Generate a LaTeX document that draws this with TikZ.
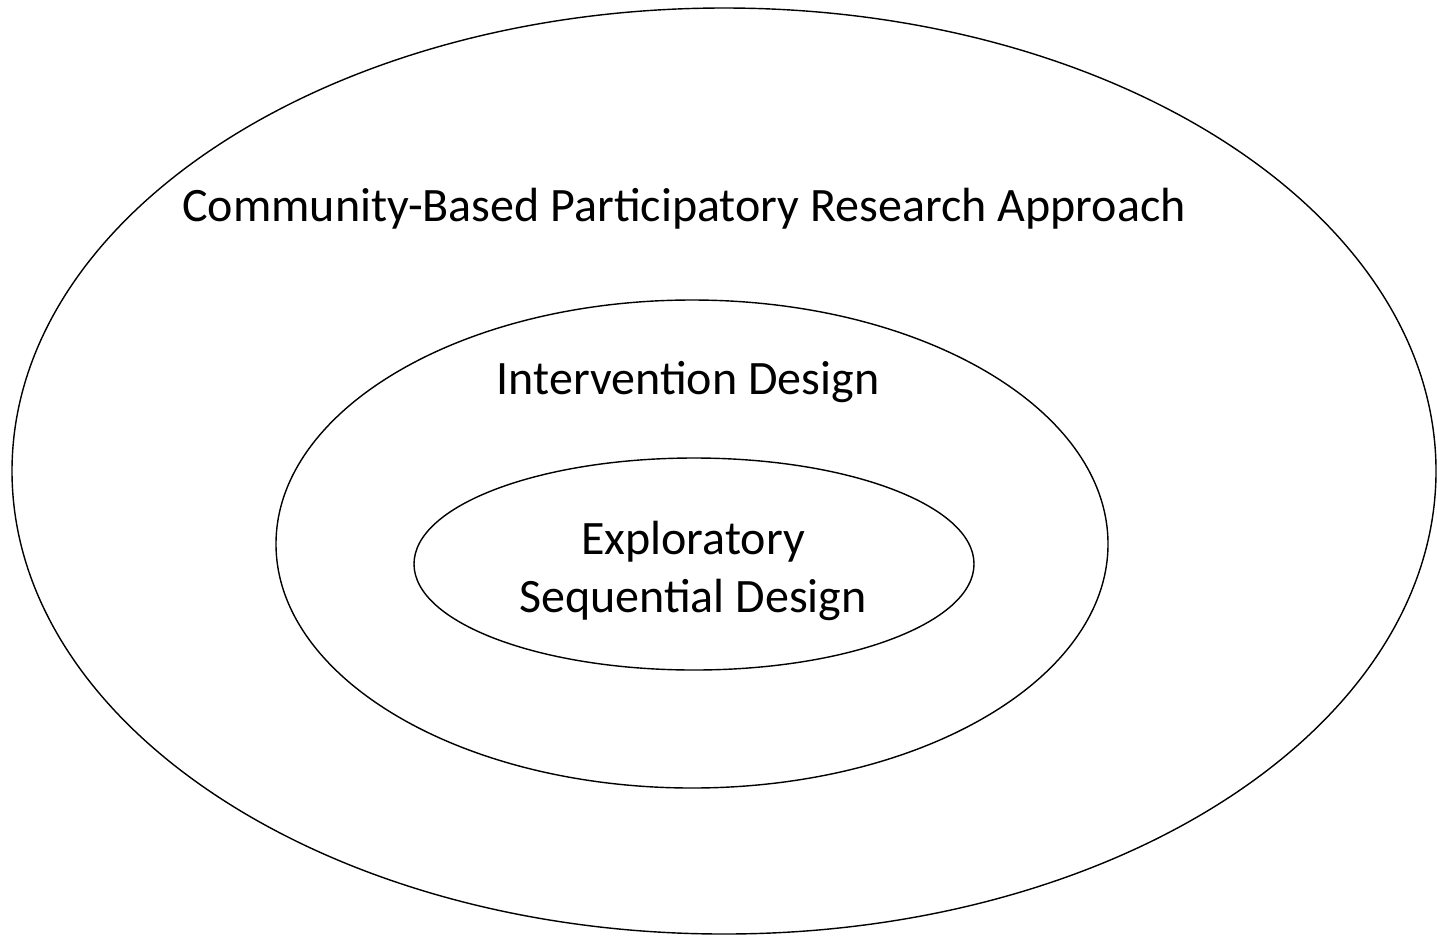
\documentclass[tikz,border=0pt]{standalone}
\usepackage{fontspec}
\setmainfont{Carlito}
\usepackage{tikz}

\begin{document}
\begin{tikzpicture}[x=0.01cm, y=-0.01cm, label/.style={font=\fontsize{13.65}{16.5}\selectfont, align=center, inner sep=0pt}]
            \useasboundingbox (0, 0) rectangle (1437, 936);

            \draw (724, 471) ellipse (712 and 463); % approach
            \draw (692, 544) ellipse (416 and 244); % intervention
            \draw (694, 564) ellipse (280 and 106); % exploratory

            \node[label] (cbpr) at (684, 209) {Community-Based Participatory Research Approach};
            \node[label] (interv) at (688, 382) {Intervention Design};
            \node[label] (explor) at (693, 571) {Exploratory\\Sequential Design};
        \end{tikzpicture}
\end{document}
